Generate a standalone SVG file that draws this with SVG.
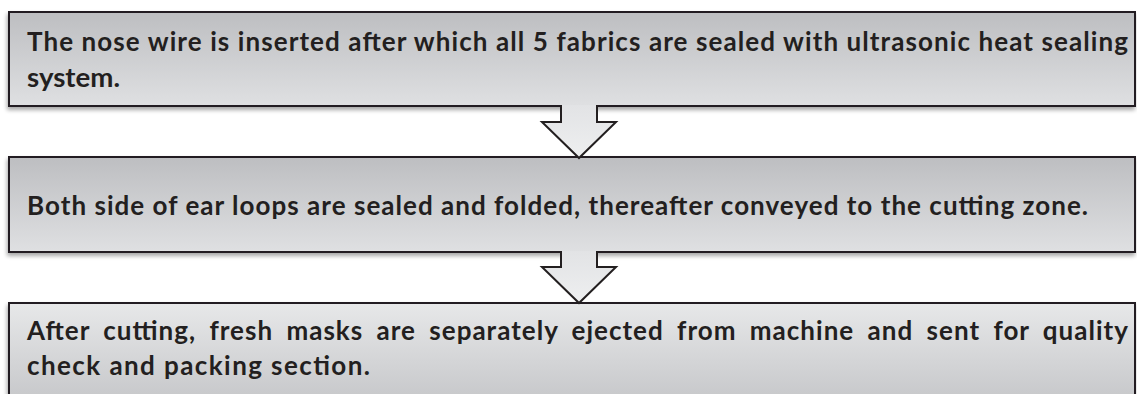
<svg xmlns="http://www.w3.org/2000/svg" width="1137" height="394" viewBox="0 0 1137 394">
  <defs>
    <linearGradient id="gBox" x1="0" y1="0" x2="0" y2="1">
      <stop offset="0" stop-color="#bdbec1"/>
      <stop offset="1" stop-color="#dfe0e2"/>
    </linearGradient>
    <linearGradient id="gBox3" x1="0" y1="0" x2="0" y2="1">
      <stop offset="0" stop-color="#e7e8e9"/>
      <stop offset="1" stop-color="#bfc0c3"/>
    </linearGradient>
    <linearGradient id="gArrow" x1="0" y1="0" x2="0" y2="1">
      <stop offset="0" stop-color="#e2e3e5"/>
      <stop offset="1" stop-color="#eeeff0"/>
    </linearGradient>
    <filter id="shadow" x="-5%" y="-20%" width="110%" height="140%">
      <feGaussianBlur in="SourceAlpha" stdDeviation="2"/>
      <feOffset dx="-1" dy="3" result="b"/>
      <feComponentTransfer><feFuncA type="linear" slope="0.35"/></feComponentTransfer>
      <feMerge><feMergeNode/><feMergeNode in="SourceGraphic"/></feMerge>
    </filter>
  </defs>
  <style>
    .box { stroke: #231f20; stroke-width: 2; filter: url(#shadow); }
    .txt { font-family: Lato, "Open Sans", "Liberation Sans", sans-serif; font-weight: bold; font-size: 26px; fill: #231f20; }
    .arrow { fill: url(#gArrow); stroke: #231f20; stroke-width: 2; stroke-linejoin: miter; }
  </style>
  <rect width="1137" height="394" fill="#ffffff"/>

  <g id="node1">
    <rect class="box" x="9" y="12" width="1126" height="94" fill="url(#gBox)"/>
    <text class="txt" x="27" y="51" textLength="1101" lengthAdjust="spacing">The nose wire is inserted after which all 5 fabrics are sealed with ultrasonic heat sealing</text>
    <text class="txt" x="27" y="87" textLength="93" lengthAdjust="spacingAndGlyphs">system.</text>
  </g>

  <g id="node2">
    <rect class="box" x="9" y="157" width="1126" height="95" fill="url(#gBox)"/>
    <text class="txt" x="27" y="215" textLength="1061" lengthAdjust="spacing">Both side of ear loops are sealed and folded, thereafter conveyed to the cutting zone.</text>
  </g>

  <g id="node3">
    <rect class="box" x="9" y="303" width="1126" height="120" fill="url(#gBox3)"/>
    <text class="txt" x="27" y="340" textLength="1101" lengthAdjust="spacing" word-spacing="6">After cutting, fresh masks are separately ejected from machine and sent for quality</text>
    <text class="txt" x="27" y="375" textLength="343" lengthAdjust="spacing">check and packing section.</text>
  </g>

  <g id="connectors">
    <path class="arrow" d="M561,105 V122 H542 L579,158 L616,122 H597 V105"/>
    <path class="arrow" d="M561,251 V267 H542 L579,303 L616,267 H597 V251"/>
  </g>
</svg>
